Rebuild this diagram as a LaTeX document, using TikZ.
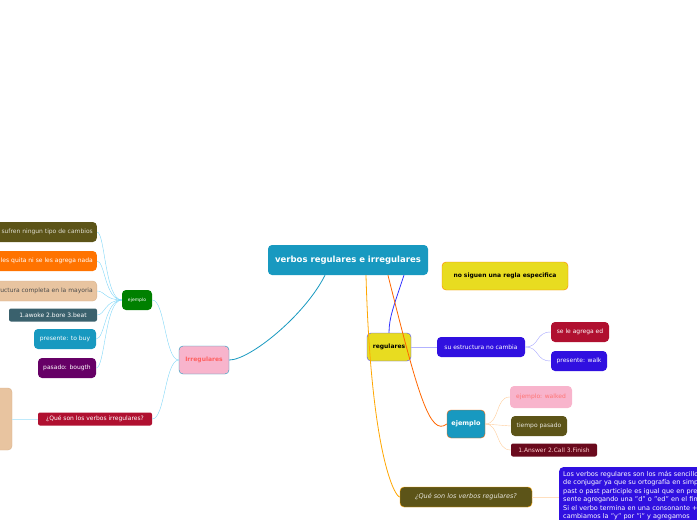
\documentclass[tikz,border=0pt]{standalone}
\usepackage{fontspec}
\setmainfont{DejaVu Sans}
\usetikzlibrary{positioning}
\definecolor{teal}{HTML}{1899C0}
\definecolor{olive}{HTML}{5C5418}
\definecolor{ink}{HTML}{3010E0}
\definecolor{wine}{HTML}{B01030}
\definecolor{yel}{HTML}{E8DC20}
\definecolor{pinkf}{HTML}{F8B4CC}
\definecolor{tan}{HTML}{E8C4A0}
\tikzset{
  topic/.style={rounded corners=4pt, inner sep=0pt, align=center, font=\fontsize{6}{7}\selectfont},
}
\begin{document}
\begin{tikzpicture}[x=1pt,y=-1pt]
\useasboundingbox (0,0) rectangle (697,520);

% centro
\node [topic, fill=teal, text=white, minimum width=160, minimum height=30, font=\bfseries\fontsize{8.5}{9}\selectfont] (title) at (348,260) {verbos regulares e irregulares};

% rama regulares
\node [topic, fill=yel, draw=orange, minimum width=126, minimum height=28, font=\bfseries\fontsize{6}{7}\selectfont] (noreg) at (505,276) {no siguen una regla especifica};
\node [topic, fill=yel, draw=blue!70, minimum width=44, minimum height=28, font=\bfseries\fontsize{6}{7}\selectfont] (reg) at (389,347) {regulares};
\node [topic, fill=ink, text=white, minimum width=88, minimum height=20] (estr) at (481,347) {su estructura no cambia};
\node [topic, fill=wine, text=white, minimum width=58, minimum height=20] (ed) at (580,332) {se le agrega ed};
\node [topic, fill=ink, text=white, minimum width=56, minimum height=20] (walk) at (579,361) {presente: walk};
\node [topic, fill=teal, draw=orange!80!red, text=white, minimum width=38, minimum height=28, font=\bfseries\fontsize{6.5}{7}\selectfont] (ejr) at (466,424) {ejemplo};
\node [topic, fill=pinkf, text=pink!60!red, minimum width=62, minimum height=22] (walked) at (541,397) {ejemplo: walked};
\node [topic, fill=olive, text=white!85!olive, minimum width=56, minimum height=20] (pasado) at (539,426) {tiempo pasado};
\node [topic, fill=wine!60!black, text=white!80!red, rounded corners=2pt, minimum width=86, minimum height=13] (answer) at (554,450) {1.Answer 2.Call 3.Finish};
\node [topic, fill=olive, draw=orange!70!yellow, text=white!85!olive, minimum width=132, minimum height=20, font=\itshape\fontsize{6.5}{7}\selectfont] (quereg) at (466,497) {¿Qué son los verbos regulares?};
\node [topic, fill=ink, text=white, anchor=north west, text width=150, inner sep=4pt, align=left, font=\fontsize{6.5}{8.5}\selectfont] (def) at (559,467) {Los verbos regulares son los más sencillos de conjugar ya que su ortografía en simple past o past participle es igual que en presente agregando una "d" o "ed" en el final. Si el verbo termina en una consonante + y cambiamos la "y" por "i" y agregamos};

% rama irregulares
\node [topic, fill=pinkf, draw=teal, text=pink!50!red, minimum width=50, minimum height=28, font=\bfseries\fontsize{6}{7}\selectfont] (irr) at (204,360) {Irregulares};
\node [topic, fill=green!50!black, text=white, minimum width=30, minimum height=20, font=\fontsize{4.5}{5}\selectfont] (eji) at (137,300) {ejemplo};
\node [topic, fill=olive, text=white!80!olive, anchor=east, minimum height=20, inner xsep=4pt] (cambios) at (97,232) {los verbos irregulares no sufren ningun tipo de cambios};
\node [topic, fill=orange!90!red, text=white, anchor=east, minimum height=20, inner xsep=4pt] (nada) at (97,261) {no se les quita ni se les agrega nada};
\node [topic, fill=tan, draw=brown!60, text=black!70, anchor=east, minimum height=20, inner xsep=4pt] (mayoria) at (97,291) {cambian su estructura completa en la mayoria};
\node [topic, fill=black!50!teal!60!gray, text=white, rounded corners=2pt, minimum width=88, minimum height=13] (awoke) at (53,315) {1.awoke 2.bore 3.beat};
\node [topic, fill=teal, text=white, minimum width=62, minimum height=20] (buy) at (65,339) {presente: to buy};
\node [topic, fill=violet!80!black, text=white, minimum width=58, minimum height=20] (bougth) at (67,368) {pasado: bougth};
\node [topic, fill=wine, text=white, rounded corners=2pt, minimum width=114, minimum height=13] (queirr) at (95,419) {¿Qué son los verbos irregulares?};
\node [topic, fill=tan, draw=brown!60, minimum width=40, minimum height=62] (defirr) at (-8,419) {};

% conexiones
\draw [teal, thick] (title.south) +(-23,0) .. controls +(-20,40) and (250,360) .. (irr.east);
\draw [blue!80, thick] (title.south) +(56,0) .. controls +(-10,30) and +(0,-15) .. (reg.north);
\draw [orange!80!red, thick] (title.south) +(40,0) .. controls +(30,120) and (430,437) .. (ejr.west);
\draw [orange!70!yellow, thick] (title.south) +(18,0) .. controls +(5,180) and (395,497) .. (quereg.west);
\draw [blue!30, thick] (reg.east) -- (estr.west);
\draw [blue!35] (estr.east) .. controls (540,347) and (535,332) .. (ed.west);
\draw [blue!35] (estr.east) .. controls (540,347) and (535,361) .. (walk.west);
\draw [orange!40] (ejr.east) .. controls (500,424) and (495,397) .. (walked.west);
\draw [orange!40] (ejr.east) -- (pasado.west);
\draw [orange!40] (ejr.east) .. controls (500,424) and (495,450) .. (answer.west);
\draw [orange!25, thick] (quereg.east) -- (def.west |- quereg.east);
\draw [cyan!50] (irr.west) .. controls (165,360) and (165,300) .. (eji.east);
\draw [cyan!50] (irr.west) .. controls (165,360) and (165,419) .. (queirr.east);
\foreach \n in {cambios,nada,mayoria,awoke,buy,bougth}
  \draw [cyan!50] (eji.west) .. controls (105,300) and (105,300 |- \n.east) .. (\n.east);
\draw [cyan!25, thick] (queirr.west) -- (defirr.east);
\end{tikzpicture}
\end{document}
